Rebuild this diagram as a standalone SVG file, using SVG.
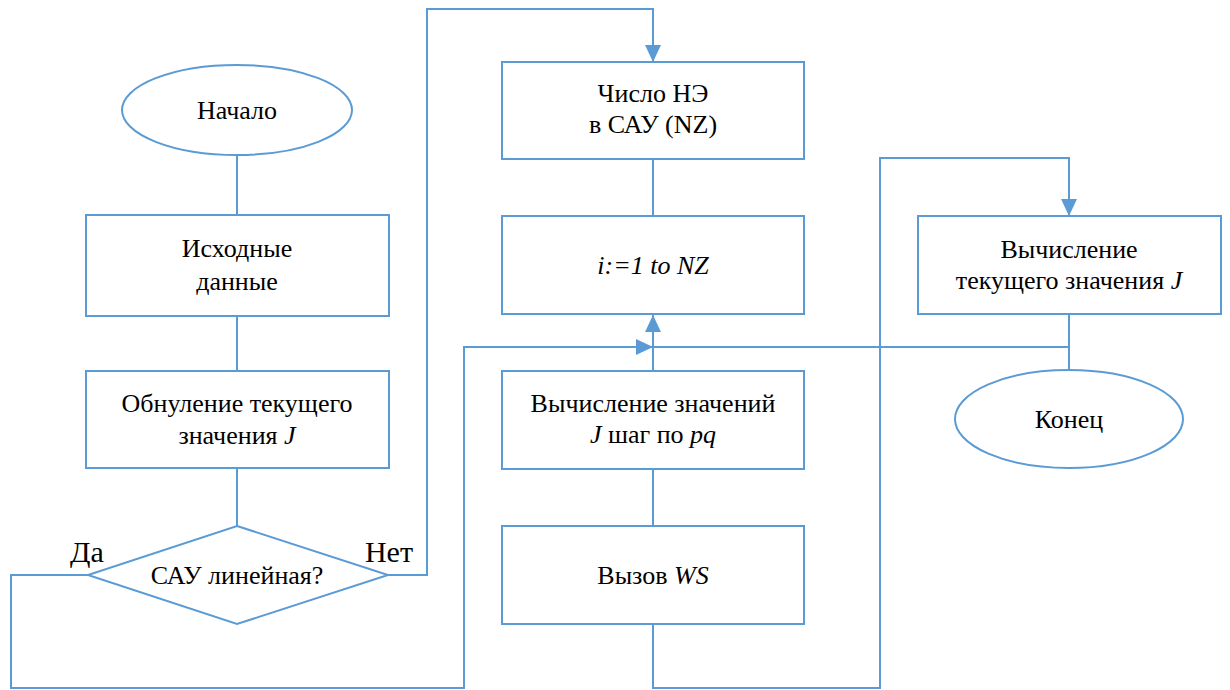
<svg xmlns="http://www.w3.org/2000/svg" width="1230" height="690" viewBox="0 0 1230 690">
<style>
.n{fill:#fff;stroke:#5B9BD5;stroke-width:2}
.c{fill:none;stroke:#5B9BD5;stroke-width:2}
.t{font-family:"Liberation Serif","Times New Roman",serif;font-size:26px;fill:#000;text-anchor:middle}
.i{font-style:italic}
.b{font-size:30px}
</style>
<defs>
<marker id="a" markerUnits="userSpaceOnUse" markerWidth="18" markerHeight="16" refX="17" refY="8" orient="auto">
<path d="M0,0 L17,8 L0,16 Z" fill="#5B9BD5"/>
</marker>
</defs>
<rect width="1230" height="690" fill="#fff"/>
<g id="connectors">
<path class="c" d="M237,155 V215"/>
<path class="c" d="M237,316 V371"/>
<path class="c" d="M237,468 V526"/>
<path class="c" d="M388,575 H427 V9 H653 V62" marker-end="url(#a)"/>
<path class="c" d="M88,575 H11 V688 H464 V347 H653" marker-end="url(#a)"/>
<path class="c" d="M653,159 V216"/>
<path class="c" d="M653,371 V315" marker-end="url(#a)"/>
<path class="c" d="M653,469 V526"/>
<path class="c" d="M653,624 V688 H880 V158 H1069 V216" marker-end="url(#a)"/>
<path class="c" d="M1069,314 V370"/>
<path class="c" d="M1069,347 H653"/>
</g>
<g class="t">
<g id="start"><ellipse class="n" cx="237" cy="110" rx="115" ry="45"/><text x="237" y="119">Начало</text></g>
<g id="input"><rect class="n" x="86" y="215" width="303" height="101"/><text x="237" y="257">Исходные</text><text x="237" y="290">данные</text></g>
<g id="reset"><rect class="n" x="86" y="371" width="303" height="97"/><text x="237" y="412">Обнуление текущего</text><text x="237" y="444">значения <tspan class="i">J</tspan></text></g>
<g id="decision"><polygon class="n" points="237,526 388,575 237,624 88,575"/><text x="237" y="584">САУ линейная?</text></g>
<text id="yes" class="b" x="87" y="562">Да</text>
<text id="no" class="b" x="389" y="562">Нет</text>
<g id="count"><rect class="n" x="502" y="62" width="302" height="97"/><text x="653" y="102">Число НЭ</text><text x="653" y="133">в САУ (NZ)</text></g>
<g id="loop"><rect class="n" x="502" y="216" width="302" height="98"/><text class="i" x="653" y="274">i:=1 to NZ</text></g>
<g id="calc"><rect class="n" x="502" y="371" width="302" height="98"/><text x="653" y="412">Вычисление значений</text><text x="653" y="443"><tspan class="i">J</tspan> шаг по <tspan class="i">pq</tspan></text></g>
<g id="call"><rect class="n" x="502" y="526" width="302" height="98"/><text x="653" y="584">Вызов <tspan class="i">WS</tspan></text></g>
<g id="current"><rect class="n" x="918" y="216" width="303" height="98"/><text x="1069" y="258">Вычисление</text><text x="1069" y="289">текущего значения <tspan class="i">J</tspan></text></g>
<g id="end"><ellipse class="n" cx="1069" cy="419" rx="114" ry="49"/><text x="1069" y="428">Конец</text></g>
</g>
</svg>
